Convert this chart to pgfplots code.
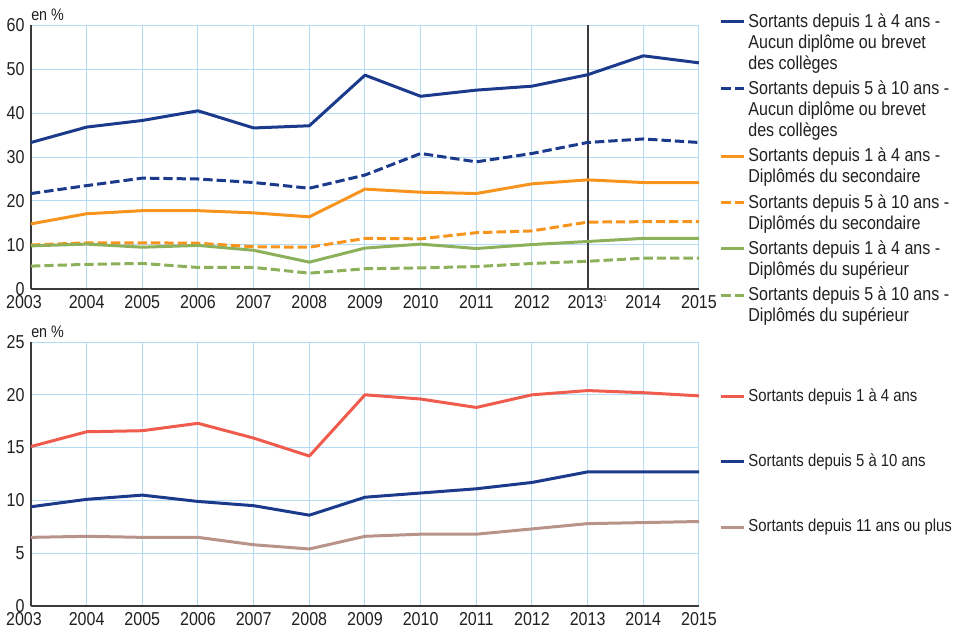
\documentclass[border=0pt]{standalone}
\usepackage{fontspec}
\setmainfont{Liberation Sans}[FakeStretch=0.86]
\usepackage{pgfplots}
\pgfplotsset{compat=1.18}
\definecolor{cblue}{HTML}{1B3A8C}
\definecolor{corange}{HTML}{F7941E}
\definecolor{cgreen}{HTML}{8DB15B}
\definecolor{cred}{HTML}{EF5B4C}
\definecolor{cbrown}{HTML}{B8938A}
\definecolor{gridc}{HTML}{B3DBF2}
\definecolor{txt}{HTML}{231F20}
\definecolor{axc}{HTML}{3A3A3A}
\begin{document}
\fontsize{14}{15.75}\selectfont
\begin{tikzpicture}
\pgfplotsset{
  common/.style={
    scale only axis, width=501pt, height=198pt,
    xmin=2003, xmax=2015,
    axis lines*=left,
    axis line style={draw=axc, line width=1pt},
    grid=major, grid style={draw=gridc, line width=0.75pt},
    major tick length=0pt,
    xtick={2003,2004,...,2015},
    ticklabel style={font=\fontsize{14}{16}\selectfont, text=txt},
    /pgf/number format/assume math mode=true,
    /pgf/number format/1000 sep={},
    every axis plot/.append style={line width=2.25pt, line join=round},
    legend style={draw=none, fill=none, at={(1,1)}, anchor=north west,
      cells={anchor=west, align=left, text=txt, inner sep=0pt, font=\fontsize{14}{15.75}\selectfont}},
    clip=false,
  },
  dsh/.style={dash pattern=on 7pt off 3pt},
}
% ---------- top panel ----------
\begin{axis}[common, at={(0pt,237.75pt)},
  ymin=0, ymax=60, ytick={0,10,...,60},
  xticklabels={\hspace*{-10.5pt}2003,2004,2005,2006,2007,2008,2009,2010,2011,2012,2013\textsuperscript{\fontsize{6}{6}\selectfont 1},2014,2015},
  legend style={xshift=12.5pt, yshift=13pt, row sep=2.6pt},
]
\addplot[axc, line width=1.5pt, forget plot] coordinates {(2013,0) (2013,60)};
\addplot[cblue, legend image post style={yshift=15.75pt}] coordinates {
(2003,33.3) (2004,36.8) (2005,38.3) (2006,40.5) (2007,36.6) (2008,37.1) (2009,48.6)
(2010,43.8) (2011,45.2) (2012,46.1) (2013,48.7) (2014,53.0) (2015,51.4)};
\addlegendentry{Sortants depuis 1 à 4 ans -\\Aucun diplôme ou brevet\\des collèges}
\addplot[cblue, dsh, legend image post style={yshift=15.75pt}] coordinates {
(2003,21.7) (2004,23.5) (2005,25.2) (2006,25.0) (2007,24.2) (2008,22.9) (2009,25.9)
(2010,30.8) (2011,28.9) (2012,30.8) (2013,33.3) (2014,34.1) (2015,33.3)};
\addlegendentry{Sortants depuis 5 à 10 ans -\\Aucun diplôme ou brevet\\des collèges}
\addplot[corange, legend image post style={yshift=7.875pt}] coordinates {
(2003,14.8) (2004,17.1) (2005,17.8) (2006,17.8) (2007,17.3) (2008,16.4) (2009,22.7)
(2010,22.0) (2011,21.7) (2012,23.9) (2013,24.8) (2014,24.2) (2015,24.2)};
\addlegendentry{Sortants depuis 1 à 4 ans -\\Diplômés du secondaire}
\addplot[corange, dsh, legend image post style={yshift=7.875pt}] coordinates {
(2003,10.0) (2004,10.5) (2005,10.5) (2006,10.4) (2007,9.6) (2008,9.5) (2009,11.5)
(2010,11.4) (2011,12.8) (2012,13.2) (2013,15.2) (2014,15.3) (2015,15.3)};
\addlegendentry{Sortants depuis 5 à 10 ans -\\Diplômés du secondaire}
\addplot[cgreen, legend image post style={yshift=7.875pt}] coordinates {
(2003,9.8) (2004,10.2) (2005,9.5) (2006,9.9) (2007,8.8) (2008,6.1) (2009,9.3)
(2010,10.2) (2011,9.2) (2012,10.1) (2013,10.8) (2014,11.5) (2015,11.5)};
\addlegendentry{Sortants depuis 1 à 4 ans -\\Diplômés du supérieur}
\addplot[cgreen, dsh, legend image post style={yshift=7.875pt}] coordinates {
(2003,5.2) (2004,5.6) (2005,5.8) (2006,4.9) (2007,4.9) (2008,3.6) (2009,4.6)
(2010,4.8) (2011,5.1) (2012,5.8) (2013,6.3) (2014,7.0) (2015,7.0)};
\addlegendentry{Sortants depuis 5 à 10 ans -\\Diplômés du supérieur}
\node[anchor=south west, inner sep=0pt, text=txt, font=\fontsize{12.5}{14}\selectfont] at (rel axis cs:0,1) [yshift=3pt] {en \%};
\end{axis}
% ---------- bottom panel ----------
\begin{axis}[common, at={(0pt,0pt)},
  ymin=0, ymax=25, ytick={0,5,...,25},
  xticklabels={\hspace*{-10.5pt}2003,2004,2005,2006,2007,2008,2009,2010,2011,2012,2013,2014,2015},
  legend style={xshift=12.5pt, yshift=-30.5pt, row sep=33.5pt,
    cells={font=\fontsize{13}{15}\selectfont}},
]
\addplot[cred] coordinates {
(2003,15.1) (2004,16.5) (2005,16.6) (2006,17.3) (2007,15.9) (2008,14.2) (2009,20.0)
(2010,19.6) (2011,18.8) (2012,20.0) (2013,20.4) (2014,20.2) (2015,19.9)};
\addlegendentry{Sortants depuis 1 à 4 ans}
\addplot[cblue] coordinates {
(2003,9.4) (2004,10.1) (2005,10.5) (2006,9.9) (2007,9.5) (2008,8.6) (2009,10.3)
(2010,10.7) (2011,11.1) (2012,11.7) (2013,12.7) (2014,12.7) (2015,12.7)};
\addlegendentry{Sortants depuis 5 à 10 ans}
\addplot[cbrown] coordinates {
(2003,6.5) (2004,6.6) (2005,6.5) (2006,6.5) (2007,5.8) (2008,5.4) (2009,6.6)
(2010,6.8) (2011,6.8) (2012,7.3) (2013,7.8) (2014,7.9) (2015,8.0)};
\addlegendentry{Sortants depuis 11 ans ou plus}
\node[anchor=south west, inner sep=0pt, text=txt, font=\fontsize{12.5}{14}\selectfont] at (rel axis cs:0,1) [yshift=3pt] {en \%};
\end{axis}
\pgfresetboundingbox
\useasboundingbox (-23.25pt,-19.5pt) rectangle (696.75pt,454.5pt);
\end{tikzpicture}
\end{document}
